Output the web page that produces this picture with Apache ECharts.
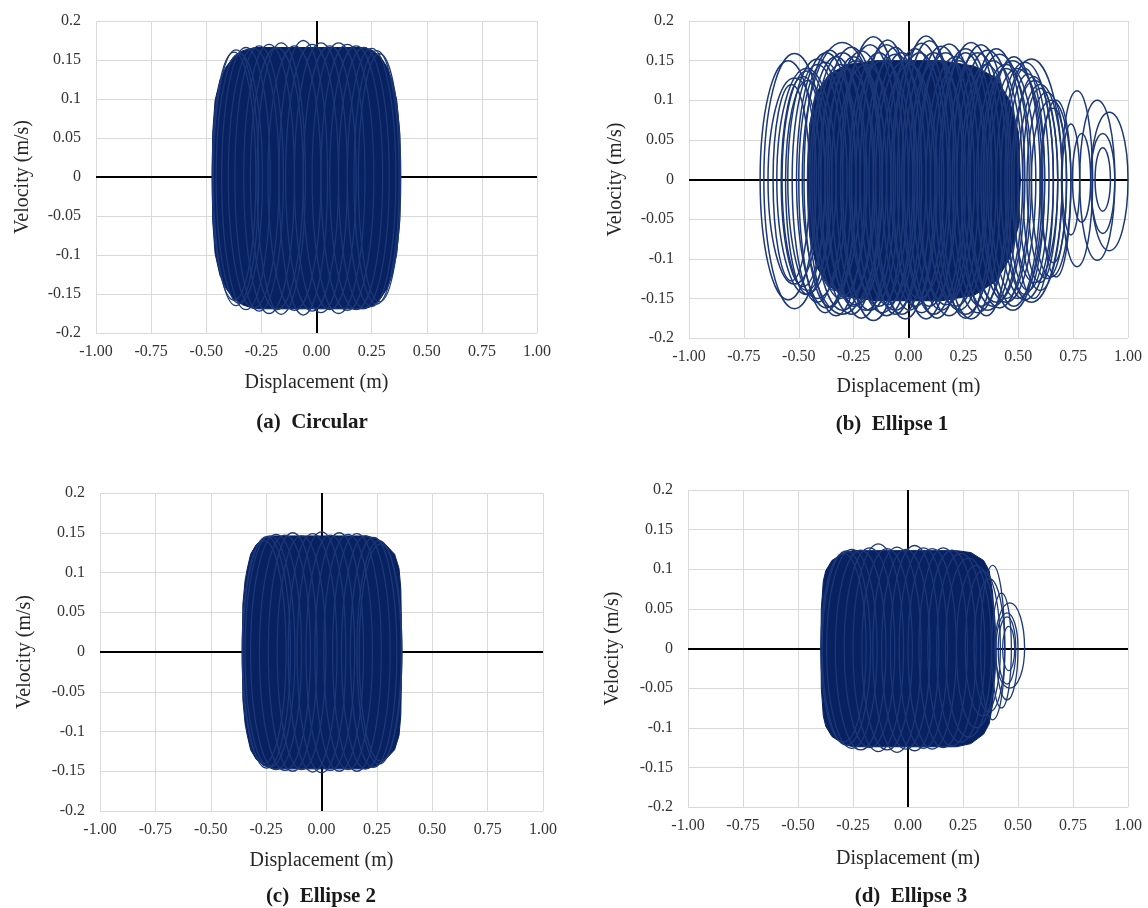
<!DOCTYPE html>
<html><head><meta charset="utf-8">
<script src="https://cdn.jsdelivr.net/npm/echarts@6/dist/echarts.min.js"></script>
<style>html,body{margin:0;padding:0;background:#fff}#c{width:1148px;height:908px}</style>
</head><body><div id="c"></div>
<script>
// ---------- tick labels ----------
const xTickLabels = ['-1.00','-0.75','-0.50','-0.25','0.00','0.25','0.50','0.75','1.00'];
const yTickLabels = ['-0.2','-0.15','-0.1','-0.05','0','0.05','0.1','0.15','0.2'];
const captions = ['(a)  Circular','(b)  Ellipse 1','(c)  Ellipse 2','(d)  Ellipse 3'];
const xName = 'Displacement (m)';
const yName = 'Velocity (m/s)';

// ---------- dense core envelopes [displacement, velocity] ----------
const coreA = [[-0.473,0],[-0.471,0.056],[-0.46,0.098],[-0.438,0.124],[-0.41,0.141],[-0.376,0.154],[-0.334,0.162],[-0.28,0.166],[0.22,0.166],[0.256,0.162],[0.29,0.154],[0.32,0.141],[0.343,0.124],[0.364,0.098],[0.378,0.056],[0.381,0],[0.378,-0.056],[0.364,-0.098],[0.343,-0.126],[0.32,-0.143],[0.29,-0.156],[0.256,-0.165],[0.22,-0.169],[-0.28,-0.169],[-0.334,-0.164],[-0.376,-0.156],[-0.41,-0.143],[-0.438,-0.126],[-0.46,-0.098],[-0.471,-0.056]];
const coreB = [[-0.46,0],[-0.45,0.07],[-0.42,0.11],[-0.36,0.133],[-0.28,0.145],[-0.15,0.15],[0.15,0.15],[0.30,0.143],[0.40,0.128],[0.46,0.10],[0.50,0.06],[0.51,0],[0.50,-0.06],[0.46,-0.10],[0.40,-0.128],[0.30,-0.146],[0.15,-0.153],[-0.15,-0.153],[-0.28,-0.148],[-0.36,-0.135],[-0.42,-0.11],[-0.45,-0.07]];
const coreC = [[-0.358,0],[-0.355,0.06],[-0.345,0.09],[-0.335,0.105],[-0.32,0.123],[-0.295,0.135],[-0.26,0.143],[-0.22,0.146],[0.20,0.146],[0.25,0.143],[0.29,0.135],[0.33,0.123],[0.35,0.105],[0.358,0.08],[0.363,0],[0.358,-0.08],[0.35,-0.105],[0.33,-0.123],[0.29,-0.135],[0.25,-0.143],[0.20,-0.147],[-0.22,-0.147],[-0.26,-0.143],[-0.295,-0.135],[-0.32,-0.123],[-0.335,-0.105],[-0.345,-0.09],[-0.355,-0.06]];
const coreD = [[-0.396,0],[-0.394,0.05],[-0.385,0.085],[-0.374,0.098],[-0.346,0.111],[-0.29,0.121],[-0.25,0.1235],[0.22,0.1235],[0.286,0.121],[0.344,0.111],[0.369,0.098],[0.385,0.07],[0.394,0.03],[0.394,-0.03],[0.385,-0.07],[0.369,-0.095],[0.344,-0.108],[0.286,-0.12],[0.22,-0.124],[-0.25,-0.124],[-0.29,-0.121],[-0.346,-0.111],[-0.374,-0.098],[-0.385,-0.085],[-0.394,-0.05]];

// ---------- trajectory loops [left x, right x, top v, bottom v] ----------
const loopsA = [[-0.473,-0.275,0.160,-0.158],[-0.468,-0.262,0.163,-0.165],[-0.455,-0.245,0.158,-0.162],[-0.43,-0.21,0.166,-0.170],[-0.40,-0.17,0.165,-0.168],[-0.37,-0.15,0.168,-0.172],[-0.33,-0.10,0.170,-0.175],[-0.30,-0.06,0.166,-0.170],[-0.27,-0.05,0.172,-0.176],[-0.22,0.02,0.168,-0.171],[-0.17,0.05,0.175,-0.177],[-0.14,0.10,0.170,-0.172],[-0.10,0.14,0.172,-0.174],[-0.06,0.18,0.168,-0.170],[-0.02,0.22,0.172,-0.175],[0.02,0.26,0.170,-0.171],[0.06,0.30,0.168,-0.170],[0.10,0.33,0.166,-0.168],[0.14,0.36,0.165,-0.166],[0.17,0.375,0.162,-0.163],[0.19,0.382,0.158,-0.160]];
const loopsB = [[-0.676,-0.42,0.150,-0.152],[-0.659,-0.38,0.159,-0.163],[-0.64,-0.40,0.128,-0.132],[-0.617,-0.45,0.120,-0.128],[-0.60,-0.33,0.140,-0.145],[-0.58,-0.38,0.130,-0.135],[-0.576,-0.35,0.137,-0.140],[-0.56,-0.36,0.125,-0.145],[-0.55,-0.28,0.152,-0.150],[-0.53,-0.30,0.145,-0.155],[-0.51,-0.24,0.160,-0.162],[-0.50,-0.26,0.148,-0.168],[-0.484,-0.12,0.173,-0.170],[-0.476,-0.24,0.163,-0.161],[-0.46,-0.20,0.155,-0.172],[-0.45,-0.22,0.135,-0.140],[-0.44,-0.16,0.160,-0.165],[-0.43,-0.19,0.145,-0.150],[-0.41,-0.15,0.140,-0.150],[-0.40,-0.12,0.167,-0.170],[-0.38,-0.10,0.150,-0.158],[-0.37,-0.13,0.155,-0.160],[-0.35,-0.08,0.162,-0.175],[-0.33,-0.06,0.145,-0.165],[-0.31,-0.04,0.170,-0.165],[-0.30,-0.02,0.180,-0.178],[-0.27,0.00,0.160,-0.160],[-0.26,0.02,0.150,-0.168],[-0.24,0.04,0.170,-0.172],[-0.22,0.03,0.176,-0.158],[-0.20,0.08,0.158,-0.165],[-0.18,0.06,0.167,-0.170],[-0.16,0.10,0.160,-0.170],[-0.15,0.12,0.150,-0.176],[-0.12,0.13,0.145,-0.165],[-0.10,0.16,0.165,-0.160],[-0.08,0.18,0.160,-0.150],[-0.07,0.19,0.172,-0.168],[-0.05,0.21,0.181,-0.176],[-0.03,0.22,0.175,-0.160],[-0.02,0.25,0.160,-0.170],[0.00,0.26,0.150,-0.175],[0.02,0.28,0.168,-0.165],[0.04,0.30,0.160,-0.158],[0.05,0.32,0.171,-0.172],[0.08,0.35,0.155,-0.160],[0.10,0.36,0.150,-0.165],[0.12,0.40,0.165,-0.170],[0.14,0.38,0.160,-0.175],[0.15,0.42,0.173,-0.176],[0.18,0.45,0.160,-0.168],[0.20,0.46,0.170,-0.160],[0.22,0.50,0.163,-0.165],[0.24,0.47,0.145,-0.172],[0.25,0.52,0.150,-0.160],[0.27,0.53,0.165,-0.155],[0.28,0.55,0.158,-0.162],[0.31,0.58,0.145,-0.155],[0.33,0.56,0.140,-0.150],[0.34,0.61,0.150,-0.165],[0.36,0.60,0.155,-0.160],[0.37,0.62,0.140,-0.150],[0.40,0.66,0.148,-0.152],[0.42,0.70,0.152,-0.155],[0.44,0.62,0.140,-0.145],[0.45,0.64,0.133,-0.140],[0.47,0.68,0.125,-0.130],[0.48,0.66,0.130,-0.150],[0.50,0.70,0.120,-0.140],[0.52,0.68,0.115,-0.130],[0.54,0.72,0.110,-0.125],[0.56,0.74,0.100,-0.123],[0.60,0.72,0.090,-0.105],[0.605,0.74,0.100,-0.123],[0.697,0.839,0.112,-0.110],[0.78,0.94,0.100,-0.102],[0.83,1.00,0.085,-0.090],[0.747,0.83,0.058,-0.054],[0.83,0.94,0.058,-0.068],[0.70,0.78,0.070,-0.070],[0.85,0.92,0.040,-0.040]];
const loopsC = [[-0.358,-0.16,0.140,-0.140],[-0.355,-0.14,0.145,-0.146],[-0.345,-0.12,0.146,-0.145],[-0.32,-0.09,0.148,-0.148],[-0.28,-0.05,0.147,-0.149],[-0.24,-0.02,0.150,-0.150],[-0.20,0.02,0.146,-0.148],[-0.15,0.07,0.149,-0.151],[-0.11,0.11,0.151,-0.152],[-0.07,0.15,0.147,-0.149],[-0.03,0.19,0.150,-0.150],[0.01,0.23,0.148,-0.148],[0.05,0.27,0.149,-0.150],[0.09,0.31,0.146,-0.147],[0.13,0.34,0.144,-0.145],[0.16,0.36,0.140,-0.141],[0.17,0.363,0.136,-0.137]];
const loopsD = [[-0.396,-0.19,0.120,-0.118],[-0.39,-0.17,0.123,-0.122],[-0.37,-0.14,0.125,-0.126],[-0.33,-0.10,0.124,-0.128],[-0.29,-0.06,0.127,-0.125],[-0.25,-0.02,0.132,-0.130],[-0.21,0.02,0.126,-0.128],[-0.16,0.06,0.128,-0.131],[-0.12,0.10,0.125,-0.127],[-0.08,0.14,0.130,-0.129],[-0.04,0.18,0.127,-0.126],[0.00,0.22,0.126,-0.127],[0.05,0.27,0.127,-0.125],[0.09,0.31,0.124,-0.123],[0.13,0.35,0.120,-0.118],[0.17,0.38,0.114,-0.112],[0.22,0.40,0.105,-0.100],[0.26,0.42,0.098,-0.085],[0.30,0.44,0.088,-0.080],[0.33,0.44,0.105,-0.090],[0.395,0.53,0.0575,-0.050],[0.40,0.50,0.045,-0.065],[0.41,0.49,0.040,-0.045],[0.43,0.485,0.028,-0.028],[0.38,0.47,0.070,-0.075]];

const cores = [coreA, coreB, coreC, coreD];
const loops = [loopsA, loopsB, loopsC, loopsD];

// ---------- layout / style ----------
const grids = [
  {left:96, top:21, width:441, height:312},
  {left:689, top:21, width:439, height:317},
  {left:100, top:493, width:443, height:318},
  {left:688, top:490, width:440, height:317}
];
const xNameGaps = [40, 39, 40, 42];
const yNameGaps = [63, 63, 65, 65];
const captionPos = [[312,423],[892,425],[321,897],[911,897]];
const loopWidth = [1.3, 1.5, 1.3, 1.3];

const FONT = '"Liberation Serif", "Times New Roman", serif';
const FILL = '#082160';
const LINE = '#1c3878';

function coreRender(pts) {
  return function(params, api) {
    if (params.dataIndex !== 0) return null;
    const points = pts.map(p => api.coord(p));
    return {type:'polygon', shape:{points}, style:{fill:FILL, stroke:FILL, lineWidth:1}};
  };
}
function loopRender(lw) {
  return function(params, api) {
    const xl = api.value(0), xr = api.value(1), vt = api.value(2), vb = api.value(3);
    const L = api.coord([xl, 0]), R = api.coord([xr, 0]);
    const T = api.coord([xl, vt]), B = api.coord([xl, vb]);
    const cy = L[1];
    const rx = (R[0] - L[0]) / 2, ryT = cy - T[1], ryB = B[1] - cy;
    const d = 'M' + L[0] + ' ' + cy + 'A' + rx + ' ' + ryT + ' 0 0 1 ' + R[0] + ' ' + cy +
              'A' + rx + ' ' + ryB + ' 0 0 1 ' + L[0] + ' ' + cy + 'Z';
    return {type:'path', shape:{pathData:d}, style:{fill:'none', stroke:LINE, lineWidth:lw}};
  };
}

const xAxes = [], yAxes = [], series = [];
grids.forEach((g, i) => {
  xAxes.push({
    type:'value', gridIndex:i, min:-1, max:1, interval:0.25,
    name:xName, nameLocation:'middle', nameGap:xNameGaps[i],
    nameTextStyle:{fontFamily:FONT, fontSize:20, color:'#262626'},
    axisLine:{show:false}, axisTick:{show:false},
    axisLabel:{fontFamily:FONT, fontSize:16, color:'#333', margin:11,
      formatter:v => xTickLabels[Math.round((v + 1) / 0.25)]},
    splitLine:{show:true, lineStyle:{color:'#d9d9d9', width:1}}
  });
  yAxes.push({
    type:'value', gridIndex:i, min:-0.2, max:0.2, interval:0.05,
    name:yName, nameLocation:'middle', nameGap:yNameGaps[i],
    nameTextStyle:{fontFamily:FONT, fontSize:20, color:'#262626'},
    axisLine:{show:false}, axisTick:{show:false},
    axisLabel:{fontFamily:FONT, fontSize:16, color:'#333', margin:15,
      formatter:v => yTickLabels[Math.round((v + 0.2) / 0.05)]},
    splitLine:{show:true, lineStyle:{color:'#d9d9d9', width:1}}
  });
  series.push({
    type:'custom', xAxisIndex:i, yAxisIndex:i, z:2, silent:true,
    data:cores[i], encode:{x:0, y:1}, renderItem:coreRender(cores[i]),
    markLine:{
      z:1, silent:true, symbol:['none','none'], label:{show:false},
      lineStyle:{color:'#000', width:2, type:'solid'},
      data:[{yAxis:0}, {xAxis:0}]
    }
  });
  series.push({
    type:'custom', xAxisIndex:i, yAxisIndex:i, z:3, silent:true,
    data:loops[i], encode:{x:[0,1], y:[2,3]}, renderItem:loopRender(loopWidth[i])
  });
});

const chart = echarts.init(document.getElementById('c'), null, {renderer:'canvas'});
chart.setOption({
  animation:false,
  backgroundColor:'#fff',
  grid:grids,
  xAxis:xAxes, yAxis:yAxes, series:series,
  graphic:captions.map((t, i) => ({
    type:'text', x:captionPos[i][0], y:captionPos[i][1],
    style:{text:t, textAlign:'center', textVerticalAlign:'middle', font:'bold 21px ' + FONT, fill:'#1a1a1a'}
  }))
});
</script></body></html>
